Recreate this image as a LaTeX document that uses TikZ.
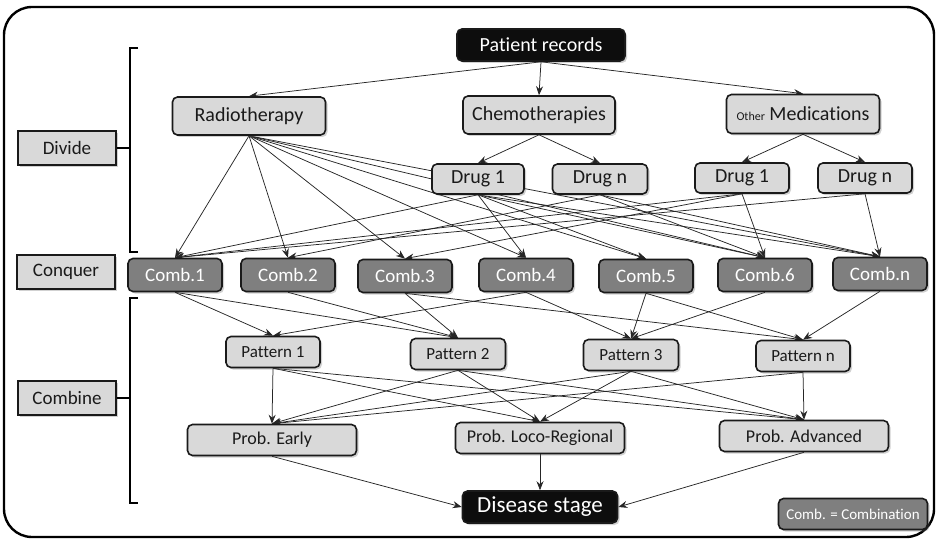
\documentclass[tikz,border=0pt]{standalone}
\usepackage{fontspec}
\setmainfont{Carlito}[Ligatures=NoCommon]
\usepackage{tikz}
\usetikzlibrary{arrows.meta, shadows, backgrounds}

\definecolor{boxgray}{HTML}{D9D9D9}
\definecolor{combgray}{HTML}{7F7F7F}
\definecolor{inkdark}{HTML}{1A1A1A}

\begin{document}
\begin{tikzpicture}[x=1pt, y=-1pt,
    softshadow/.style={drop shadow={shadow xshift=2pt, shadow yshift=-2pt, opacity=0.3, fill=black!60}},
    lightbox/.style={draw=inkdark, line width=1.6pt, rounded corners=5pt, fill=boxgray, text=inkdark, inner sep=0pt, softshadow},
    combbox/.style={lightbox, fill=combgray, text=white, minimum width=94pt, minimum height=33pt, font=\fontsize{19}{22}\selectfont},
    blackbox/.style={lightbox, fill=black!95, text=white},
    stagebox/.style={draw=inkdark, line width=1.3pt, fill=boxgray, text=inkdark, minimum width=98pt, minimum height=34pt, font=\fontsize{19}{22}\selectfont, softshadow},
    arr/.style={-{Stealth[length=9pt, width=7pt, inset=3pt]}, line width=0.75pt, draw=black!85}]
    \useasboundingbox (0,0) rectangle (936,540);
    % --- outer frame ---
    \draw[line width=2.4pt, rounded corners=28pt] (4,7) rectangle (934,537);
    % --- left column: phase labels and brackets ---
    \node[stagebox] (divide) at (67,148) {Divide};
    \node[stagebox] (conquer) at (66,272) {Conquer};
    \node[stagebox] (combine) at (67,398) {Combine};
    \draw[line width=1.3pt] (138,48) -- (130,48) -- (130,252) -- (138,252);
    \draw[line width=1.3pt] (divide.east) -- (130,148);
    \draw[line width=1.3pt] (138,298) -- (130,298) -- (130,503) -- (138,503);
    \draw[line width=1.3pt] (combine.east) -- (130,398);
    % --- divide: records, treatments, drugs ---
    \node[blackbox, minimum width=168pt, minimum height=32pt, font=\fontsize{20}{24}\selectfont] (patient) at (541,45) {Patient records};
    \node[lightbox, minimum width=153pt, minimum height=38pt, font=\fontsize{20}{24}\selectfont] (radio) at (249,116) {Radiotherapy};
    \node[lightbox, minimum width=152pt, minimum height=38pt, font=\fontsize{20}{24}\selectfont] (chemo) at (539,115) {Chemotherapies};
    \node[lightbox, minimum width=153pt, minimum height=39pt, font=\fontsize{20}{24}\selectfont] (othermed) at (803,114) {{\fontsize{12}{14}\selectfont Other} Medications};
    \node[lightbox, minimum width=92pt, minimum height=30pt, font=\fontsize{20}{24}\selectfont] (chemoA) at (478,179) {Drug 1};
    \node[lightbox, minimum width=95pt, minimum height=30pt, font=\fontsize{20}{24}\selectfont] (chemoN) at (600,179) {Drug n};
    \node[lightbox, minimum width=94pt, minimum height=30pt, font=\fontsize{20}{24}\selectfont] (medA) at (742,178) {Drug 1};
    \node[lightbox, minimum width=94pt, minimum height=30pt, font=\fontsize{20}{24}\selectfont] (medN) at (865,178) {Drug n};
    % --- conquer: combinations ---
    \node[combbox] (comb1) at (175,275) {Comb.1};
    \node[combbox] (comb2) at (288,275) {Comb.2};
    \node[combbox] (comb3) at (405,276) {Comb.3};
    \node[combbox] (comb4) at (526,275) {Comb.4};
    \node[combbox] (comb5) at (646,276) {Comb.5};
    \node[combbox] (comb6) at (765,275) {Comb.6};
    \node[combbox] (comb7) at (880,274) {Comb.n};
    % --- combine: patterns, probabilities, stage ---
    \node[lightbox, minimum width=94pt, minimum height=31pt, font=\fontsize{17}{20}\selectfont] (pat1) at (273,352) {Pattern 1};
    \node[lightbox, minimum width=95pt, minimum height=31pt, font=\fontsize{17}{20}\selectfont] (pat2) at (458,354) {Pattern 2};
    \node[lightbox, minimum width=95pt, minimum height=31pt, font=\fontsize{17}{20}\selectfont] (pat3) at (631,355) {Pattern 3};
    \node[lightbox, minimum width=94pt, minimum height=31pt, font=\fontsize{17}{20}\selectfont] (pat4) at (803,356) {Pattern n};
    \node[lightbox, minimum width=169pt, minimum height=31pt, font=\fontsize{18}{21}\selectfont] (early) at (272,440) {Prob. Early};
    \node[lightbox, minimum width=169pt, minimum height=31pt, font=\fontsize{18}{21}\selectfont] (loco) at (540,438) {Prob. Loco-Regional};
    \node[lightbox, minimum width=169pt, minimum height=31pt, font=\fontsize{18}{21}\selectfont] (advanced) at (804,436) {Prob. Advanced};
    \node[blackbox, minimum width=155pt, minimum height=32pt, font=\fontsize{23}{26}\selectfont] (stage) at (540,507) {Disease stage};
    \node[combbox, minimum width=149pt, minimum height=31pt, font=\fontsize{15}{18}\selectfont] (legend) at (853,514) {Comb. = Combination};
    % --- connectors, kept behind the boxes ---
    \begin{pgfonlayer}{background}
        \foreach \t in {radio, chemo, othermed}
            \draw[arr] (patient.south) -- (\t.north);
        \draw[arr] (chemo.south) -- (chemoA.north);
        \draw[arr] (chemo.south) -- (chemoN.north);
        \draw[arr] (othermed.south) -- (medA.north);
        \draw[arr] (othermed.south) -- (medN.north);
        % drugs and treatments to combinations
        \foreach \c in {1,...,7}
            \draw[arr] (radio.south) -- (comb\c.north);
        \foreach \c in {1,4,5,6,7}
            \draw[arr] (chemoA.south) -- (comb\c.north);
        \foreach \c in {2,6,7}
            \draw[arr] (chemoN.south) -- (comb\c.north);
        \foreach \c in {1,3,6}
            \draw[arr] (medA.south) -- (comb\c.north);
        \foreach \c in {1,7}
            \draw[arr] (medN.south) -- (comb\c.north);
        % combinations to patterns
        \foreach \s/\t in {comb1/pat1, comb1/pat2, comb2/pat2, comb3/pat2, comb3/pat4, comb4/pat1,
                           comb4/pat3, comb5/pat3, comb5/pat4, comb6/pat3, comb7/pat4}
            \draw[arr] (\s.south) -- (\t.north);
        % patterns to probabilities
        \foreach \s/\t in {pat1/early, pat1/loco, pat1/advanced, pat2/early, pat2/loco, pat2/advanced,
                           pat3/early, pat3/loco, pat3/advanced, pat4/early, pat4/advanced}
            \draw[arr] (\s.south) -- (\t.north);
        \draw[arr] (early.south) -- (stage.west);
        \draw[arr] (loco.south) -- (stage.north);
        \draw[arr] (advanced.south) -- (stage.east);
    \end{pgfonlayer}
\end{tikzpicture}
\end{document}
